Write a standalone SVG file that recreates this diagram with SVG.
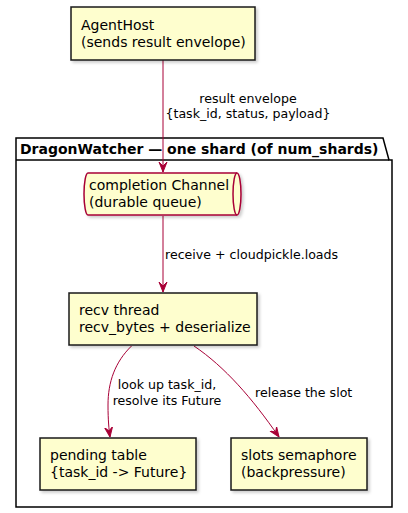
<svg xmlns="http://www.w3.org/2000/svg" width="408" height="513" viewBox="0 0 408 513">
<defs>
<filter id="sh" x="-10%" y="-10%" width="130%" height="140%">
<feDropShadow dx="2" dy="2" stdDeviation="1.5" flood-color="#000" flood-opacity="0.2"/>
</filter>
<marker id="ah" viewBox="0 0 10 10" markerWidth="10" markerHeight="10" refX="10" refY="5" orient="auto" markerUnits="userSpaceOnUse">
<path d="M0,1 L10,5 L0,9 L4,5 Z" fill="#A80036" stroke="#A80036" stroke-width="1"/>
</marker>
</defs>
<style>
.node{fill:#FEFECE;stroke:#181818;stroke-width:1.5;filter:url(#sh)}
.q{fill:#FEFECE;stroke:#A80036;stroke-width:1.5;filter:url(#sh)}
.t{font-family:"DejaVu Sans",sans-serif;font-size:14px;fill:#000}
.l{font-family:"DejaVu Sans",sans-serif;font-size:12.6px;fill:#000}
.e{fill:none;stroke:#A80036;stroke-width:1;marker-end:url(#ah)}
</style>
<rect width="408" height="513" fill="#fff"/>
<g id="pkg">
<path d="M16,138 H383 L389,160 H392 V507 H16 Z" fill="none" stroke="#000" stroke-width="1.5"/>
<line x1="16" y1="160" x2="389" y2="160" stroke="#000" stroke-width="1.5"/>
<text x="20" y="154" font-family="DejaVu Sans, sans-serif" font-size="14" font-weight="bold">DragonWatcher — one shard (of num_shards)</text>
</g>
<g id="edges">
<path class="e" d="M163,60 V172"/>
<text class="l" x="248" y="103" text-anchor="middle">result envelope</text>
<text class="l" x="248" y="118" text-anchor="middle">{task_id, status, payload}</text>
<path class="e" d="M163,216 V292"/>
<text class="l" x="165" y="259">receive + cloudpickle.loads</text>
<path class="e" d="M131.5,346 C115,362 108,382 108,405 C108,420 109,430 110,437"/>
<text class="l" x="167" y="389" text-anchor="middle">look up task_id,</text>
<text class="l" x="167" y="405" text-anchor="middle">resolve its Future</text>
<path class="e" d="M194,346 C225,367 252,398 279,437"/>
<text class="l" x="255" y="397">release the slot</text>
</g>
<g id="agenthost">
<rect class="node" x="71" y="7" width="184" height="53"/>
<text class="t" x="81" y="30">AgentHost</text>
<text class="t" x="81" y="47">(sends result envelope)</text>
</g>
<g id="channel">
<path class="q" d="M88,173 H237 A4,21 0 0 1 237,215 H88 A4,21 0 0 1 88,173 Z"/>
<path d="M237,173 A4,21 0 0 0 237,215" fill="none" stroke="#A80036" stroke-width="1.5"/>
<text class="t" x="89" y="190">completion Channel</text>
<text class="t" x="89" y="207">(durable queue)</text>
</g>
<g id="recv">
<rect class="node" x="69" y="293" width="188" height="52"/>
<text class="t" x="79" y="315">recv thread</text>
<text class="t" x="79" y="332">recv_bytes + deserialize</text>
</g>
<g id="pending">
<rect class="node" x="40" y="438" width="156" height="52"/>
<text class="t" x="50" y="460">pending table</text>
<text class="t" x="50" y="477">{task_id -&gt; Future}</text>
</g>
<g id="slots">
<rect class="node" x="231" y="438" width="136" height="52"/>
<text class="t" x="241" y="460">slots semaphore</text>
<text class="t" x="241" y="477">(backpressure)</text>
</g>
</svg>
